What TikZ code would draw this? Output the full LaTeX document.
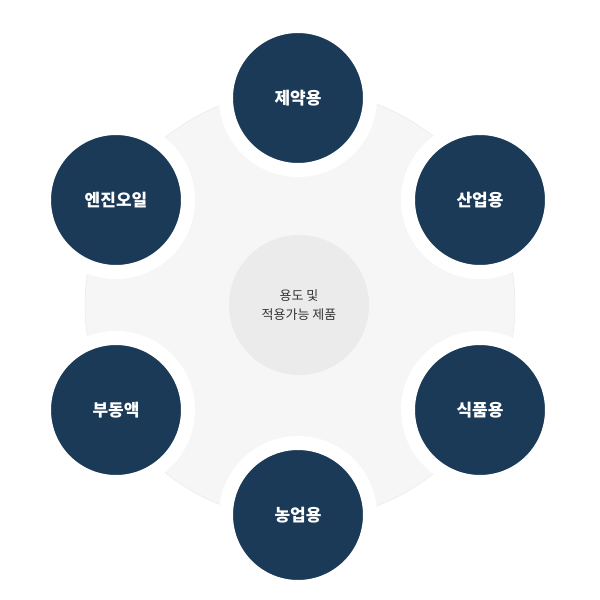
\documentclass[tikz,border=0pt]{standalone}
\usepackage{fontspec}
\newfontfamily\cjk{Noto Sans CJK KR}
\newfontfamily\cjkb{Noto Sans CJK KR Bold}
\usepackage{xcolor}
\usetikzlibrary{shadows}
\definecolor{navy}{HTML}{1B3A57}
\definecolor{ringgray}{HTML}{F6F6F6}
\definecolor{hubgray}{HTML}{EBEBEB}
\definecolor{txtgray}{HTML}{333333}
\tikzset{
  use/.style={circle,fill=navy,minimum size=144pt,inner sep=0pt,
              text=white,font=\cjk\bfseries\fontsize{17}{20}\selectfont,
              draw=white,line width=14pt,
              drop shadow={shadow xshift=0pt,shadow yshift=0pt,
                           shadow scale=1.05,opacity=0.12}},
}
\begin{document}
\begin{tikzpicture}[x=1pt,y=-1pt]
\useasboundingbox (0,0) rectangle (600,600);
    % background ring and hub
    \fill[ringgray,draw=black!10] (300,305) circle(215);
    \node[circle,fill=hubgray,minimum size=140pt,text=txtgray,align=center,
          font=\cjk\fontsize{13}{19}\selectfont] (hub) at (299,305)
          {용도 및\\적용가능 제품};

    % uses
    \node[use] (pharma) at (298,98)  {제약용};
    \node[use] (indust) at (480,200) {산업용};
    \node[use] (engine) at (116,200) {엔진오일};
    \node[use] (anti)   at (116,410) {부동액};
    \node[use] (food)   at (480,410) {식품용};
    \node[use] (farm)   at (298,515) {농업용};
\end{tikzpicture}
\end{document}
